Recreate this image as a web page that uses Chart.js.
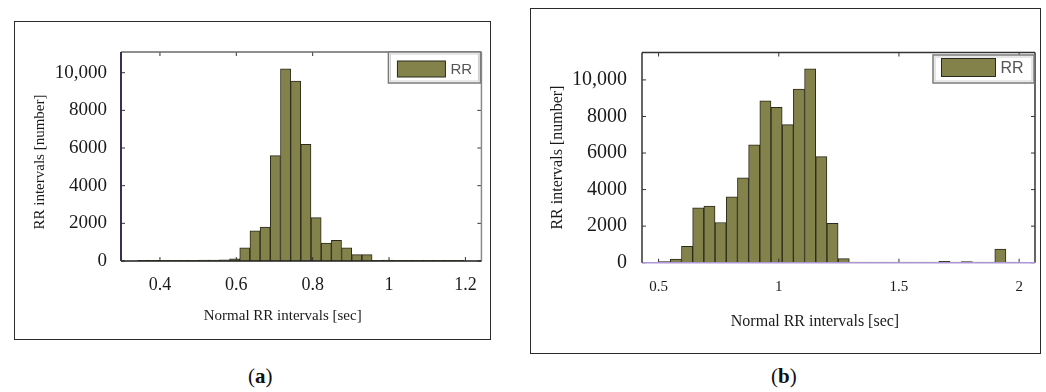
<!DOCTYPE html>
<html>
<head>
<meta charset="utf-8">
<script src="https://cdn.jsdelivr.net/npm/chart.js@4.4.1/dist/chart.umd.min.js"></script>
<style>
  html, body { margin: 0; padding: 0; background: #fff; }
  body { width: 1046px; height: 392px; position: relative; overflow: hidden; font-family: "Liberation Serif", "DejaVu Serif", serif; }
  .frame { position: absolute; border: 1.5px solid #2a2a2a; box-sizing: border-box; }
  .cv { position: absolute; }
  .cap { position: absolute; font-size: 21px; color: #111; font-family: "Liberation Serif", serif; }
</style>
</head>
<body>
<div class="frame" style="left:14px; top:21px; width:477px; height:319px;"></div>
<div class="frame" style="left:530px; top:8px; width:511px; height:346px;"></div>
<canvas id="ca" class="cv" width="476" height="318" style="left:14px; top:21px;"></canvas>
<canvas id="cb" class="cv" width="510" height="345" style="left:530px; top:8px;"></canvas>
<div class="cap" style="left:248px; top:364px;">(<b>a</b>)</div>
<div class="cap" style="left:771px; top:364px;">(<b>b</b>)</div>
<script>
// ---------- DATA ----------
const seriesLabel = 'RR';
const xTitle = 'Normal RR intervals [sec]';
const yTitle = 'RR intervals [number]';

const yTicks = [0, 2000, 4000, 6000, 8000, 10000];
const yTickLabels = ['0', '2000', '4000', '6000', '8000', '10,000'];

// Panel (a)
const binsA = [0.3556, 0.3823, 0.4090, 0.4356, 0.4623, 0.4890, 0.5156, 0.5423,
               0.5690, 0.5956, 0.6223, 0.6490, 0.6756, 0.7023, 0.7290, 0.7556,
               0.7823, 0.8090, 0.8356, 0.8623, 0.8890, 0.9156, 0.9423, 0.9690,
               0.9956, 1.0223, 1.0490, 1.0756, 1.1023, 1.1290, 1.1556, 1.1823];
const countsA = [30, 30, 40, 40, 40, 40, 50, 50,
                 60, 120, 700, 1600, 1800, 5600, 10200, 9550,
                 6200, 2300, 950, 1100, 700, 340, 340, 40,
                 50, 40, 40, 40, 40, 40, 40, 40];
const xTicksA = [0.4, 0.6, 0.8, 1.0, 1.2];
const xTickLabelsA = ['0.4', '0.6', '0.8', '1', '1.2'];

// Panel (b)
const binsB = [0.5254, 0.5719, 0.6185, 0.6650, 0.7116, 0.7582, 0.8047, 0.8513,
               0.8978, 0.9444, 0.9909, 1.0375, 1.0840, 1.1306, 1.1771, 1.2237,
               1.2702, 1.3168, 1.3633, 1.4099, 1.4564, 1.5030, 1.5495, 1.5961,
               1.6426, 1.6892, 1.7357, 1.7823, 1.8288, 1.8754, 1.9219, 1.9685];
const countsB = [60, 200, 900, 3000, 3100, 2200, 3600, 4650,
                 6450, 8850, 8500, 7550, 9500, 10600, 5800, 2150,
                 220, 40, 40, 40, 40, 40, 40, 40,
                 40, 80, 40, 60, 40, 40, 750, 40];
const xTicksB = [0.5, 1.0, 1.5, 2.0];
const xTickLabelsB = ['0.5', '1', '1.5', '2'];

// ---------- DECORATION PLUGIN (frame, inward ticks, legend, axis titles) ----------
const decor = {
  id: 'decor',
  afterDatasetsDraw(chart, args, o) {
    const { ctx, chartArea: ca, scales } = chart;
    const xs = scales.x, ys = scales.y;
    ctx.save();
    const seg = (x1, y1, x2, y2, c, w) => {
      ctx.strokeStyle = c; ctx.lineWidth = w;
      ctx.beginPath(); ctx.moveTo(x1, y1); ctx.lineTo(x2, y2); ctx.stroke();
    };
    // inward ticks
    xs.ticks.forEach(t => {
      const p = xs.getPixelForValue(t.value);
      seg(p, ca.bottom, p, ca.bottom - o.tickLen, o.tickColor, 1);
      seg(p, ca.top, p, ca.top + o.tickLen, o.tickColor, 1);
    });
    ys.ticks.forEach(t => {
      const p = ys.getPixelForValue(t.value);
      seg(ca.left, p, ca.left + o.tickLen, p, o.tickColor, 1);
      seg(ca.right, p, ca.right - o.tickLen, p, o.tickColor, 1);
    });
    // frame sides
    seg(ca.left, ca.top, ca.right, ca.top, o.top[0], o.top[1]);
    seg(ca.right, ca.top, ca.right, ca.bottom, o.right[0], o.right[1]);
    seg(ca.left, ca.bottom, ca.right, ca.bottom, o.bottom[0], o.bottom[1]);
    seg(ca.left, ca.top, ca.left, ca.bottom, o.left[0], o.left[1]);
    // legend
    const L = o.legend;
    const ds = chart.data.datasets[0];
    const bx = ca.right - L.right - L.w, by = ca.top + L.top;
    ctx.fillStyle = '#fff';
    ctx.fillRect(bx, by, L.w, L.h);
    ctx.strokeStyle = '#d0d0d0'; ctx.lineWidth = 1;
    ctx.strokeRect(bx + 2, by + 2, L.w - 4, L.h - 4);
    ctx.strokeStyle = L.border; ctx.lineWidth = 1.5;
    ctx.strokeRect(bx, by, L.w, L.h);
    ctx.fillStyle = ds.backgroundColor;
    ctx.fillRect(bx + L.sx, by + L.sy, L.sw, L.sh);
    ctx.strokeStyle = ds.borderColor; ctx.lineWidth = 1;
    ctx.strokeRect(bx + L.sx, by + L.sy, L.sw, L.sh);
    ctx.font = L.font; ctx.fillStyle = L.color;
    ctx.textBaseline = 'middle'; ctx.textAlign = 'left';
    ctx.fillText(ds.label, bx + L.sx + L.sw + L.gap, by + L.sy + L.sh / 2 + 1);
    // axis titles
    const T = o.titles;
    ctx.fillStyle = '#1a1a1a';
    ctx.font = T.font;
    ctx.textAlign = 'center'; ctx.textBaseline = 'middle';
    ctx.fillText(T.x, (ca.left + ca.right) / 2 + T.xdx, ca.bottom + T.xdy);
    ctx.translate(ca.left - T.ydx, (ca.top + ca.bottom) / 2 + T.ydy);
    ctx.rotate(-Math.PI / 2);
    ctx.fillText(T.y, 0, 0);
    ctx.restore();
  }
};

function makeChart(id, bins, counts, xTicks, xTickLabels, cfg) {
  const data = bins.map((b, i) => ({ x: b, y: counts[i] }));
  cfg.decor.titles.x = xTitle;
  cfg.decor.titles.y = yTitle;
  return new Chart(document.getElementById(id), {
    type: 'bar',
    data: {
      datasets: [{
        label: seriesLabel,
        data: data,
        backgroundColor: '#83824b',
        borderColor: '#2a2a1c',
        borderWidth: 1,
        barPercentage: 1.0,
        categoryPercentage: 1.0,
        borderSkipped: 'start'
      }]
    },
    options: {
      responsive: false,
      animation: false,
      events: [],
      layout: { padding: { left: 0, top: cfg.padTop, right: cfg.padRight, bottom: 0 } },
      plugins: {
        legend: { display: false },
        tooltip: { enabled: false },
        decor: cfg.decor
      },
      scales: {
        x: {
          type: 'linear',
          min: cfg.xMin, max: cfg.xMax,
          offset: false,
          grid: { display: false, drawTicks: false, offset: false },
          border: { display: false },
          afterBuildTicks: s => { s.ticks = xTicks.map(v => ({ value: v })); },
          afterFit: s => { s.height = cfg.xAxisH; },
          ticks: {
            autoSkip: false, maxRotation: 0,
            padding: cfg.xTickPad,
            color: '#1a1a1a',
            font: { family: 'Liberation Serif', size: cfg.xTickFont },
            callback: (v, i) => xTickLabels[i]
          },
          title: { display: false }
        },
        y: {
          min: 0, max: cfg.yMax,
          grid: { display: false, drawTicks: false },
          border: { display: false },
          afterBuildTicks: s => { s.ticks = yTicks.map(v => ({ value: v })); },
          afterFit: s => { s.width = cfg.yAxisW; },
          ticks: {
            padding: cfg.yTickPad,
            color: '#1a1a1a',
            font: { family: 'Liberation Serif', size: cfg.yTickFont },
            callback: (v, i) => yTickLabels[i]
          },
          title: { display: false }
        }
      }
    },
    plugins: [decor]
  });
}

makeChart('ca', binsA, countsA, xTicksA, xTickLabelsA, {
  padTop: 31, padRight: 8, xAxisH: 78, yAxisW: 107,
  xMin: 0.298, xMax: 1.242, yMax: 11100,
  xTickPad: 13, yTickPad: 14, xTickFont: 18, yTickFont: 19,
  decor: {
    tickLen: 4, tickColor: '#333',
    top: ['#6a6a6a', 1.5], right: ['#8a8a8a', 1.5], bottom: ['#1e1e1e', 1.5], left: ['#3c2d52', 2],
    legend: { w: 92, h: 31, right: 1, top: 0, sx: 9, sy: 9, sw: 48, sh: 16, gap: 5,
              font: '15px "Liberation Sans"', color: '#555', border: '#7a7a7a' },
    titles: { font: '15px "Liberation Serif"', xdx: -18.5, xdy: 55, ydx: 81, ydy: 5.5 }
  }
});

makeChart('cb', binsB, countsB, xTicksB, xTickLabelsB, {
  padTop: 44.5, padRight: 5, xAxisH: 90.3, yAxisW: 112,
  xMin: 0.431, xMax: 2.066, yMax: 11500,
  xTickPad: 15, yTickPad: 15, xTickFont: 15, yTickFont: 20,
  decor: {
    tickLen: 4, tickColor: '#333',
    top: ['#333', 1.5], right: ['#333', 1.5], bottom: ['#ad96d6', 1.5], left: ['#333', 1.5],
    legend: { w: 101, h: 28, right: 1, top: 2.5, sx: 8.5, sy: 3.5, sw: 54, sh: 18, gap: 5,
              font: '16px "Liberation Sans"', color: '#555', border: '#7a7a7a' },
    titles: { font: '16px "Liberation Serif"', xdx: -23.5, xdy: 59, ydx: 84, ydy: 0 }
  }
});
</script>
</body>
</html>
